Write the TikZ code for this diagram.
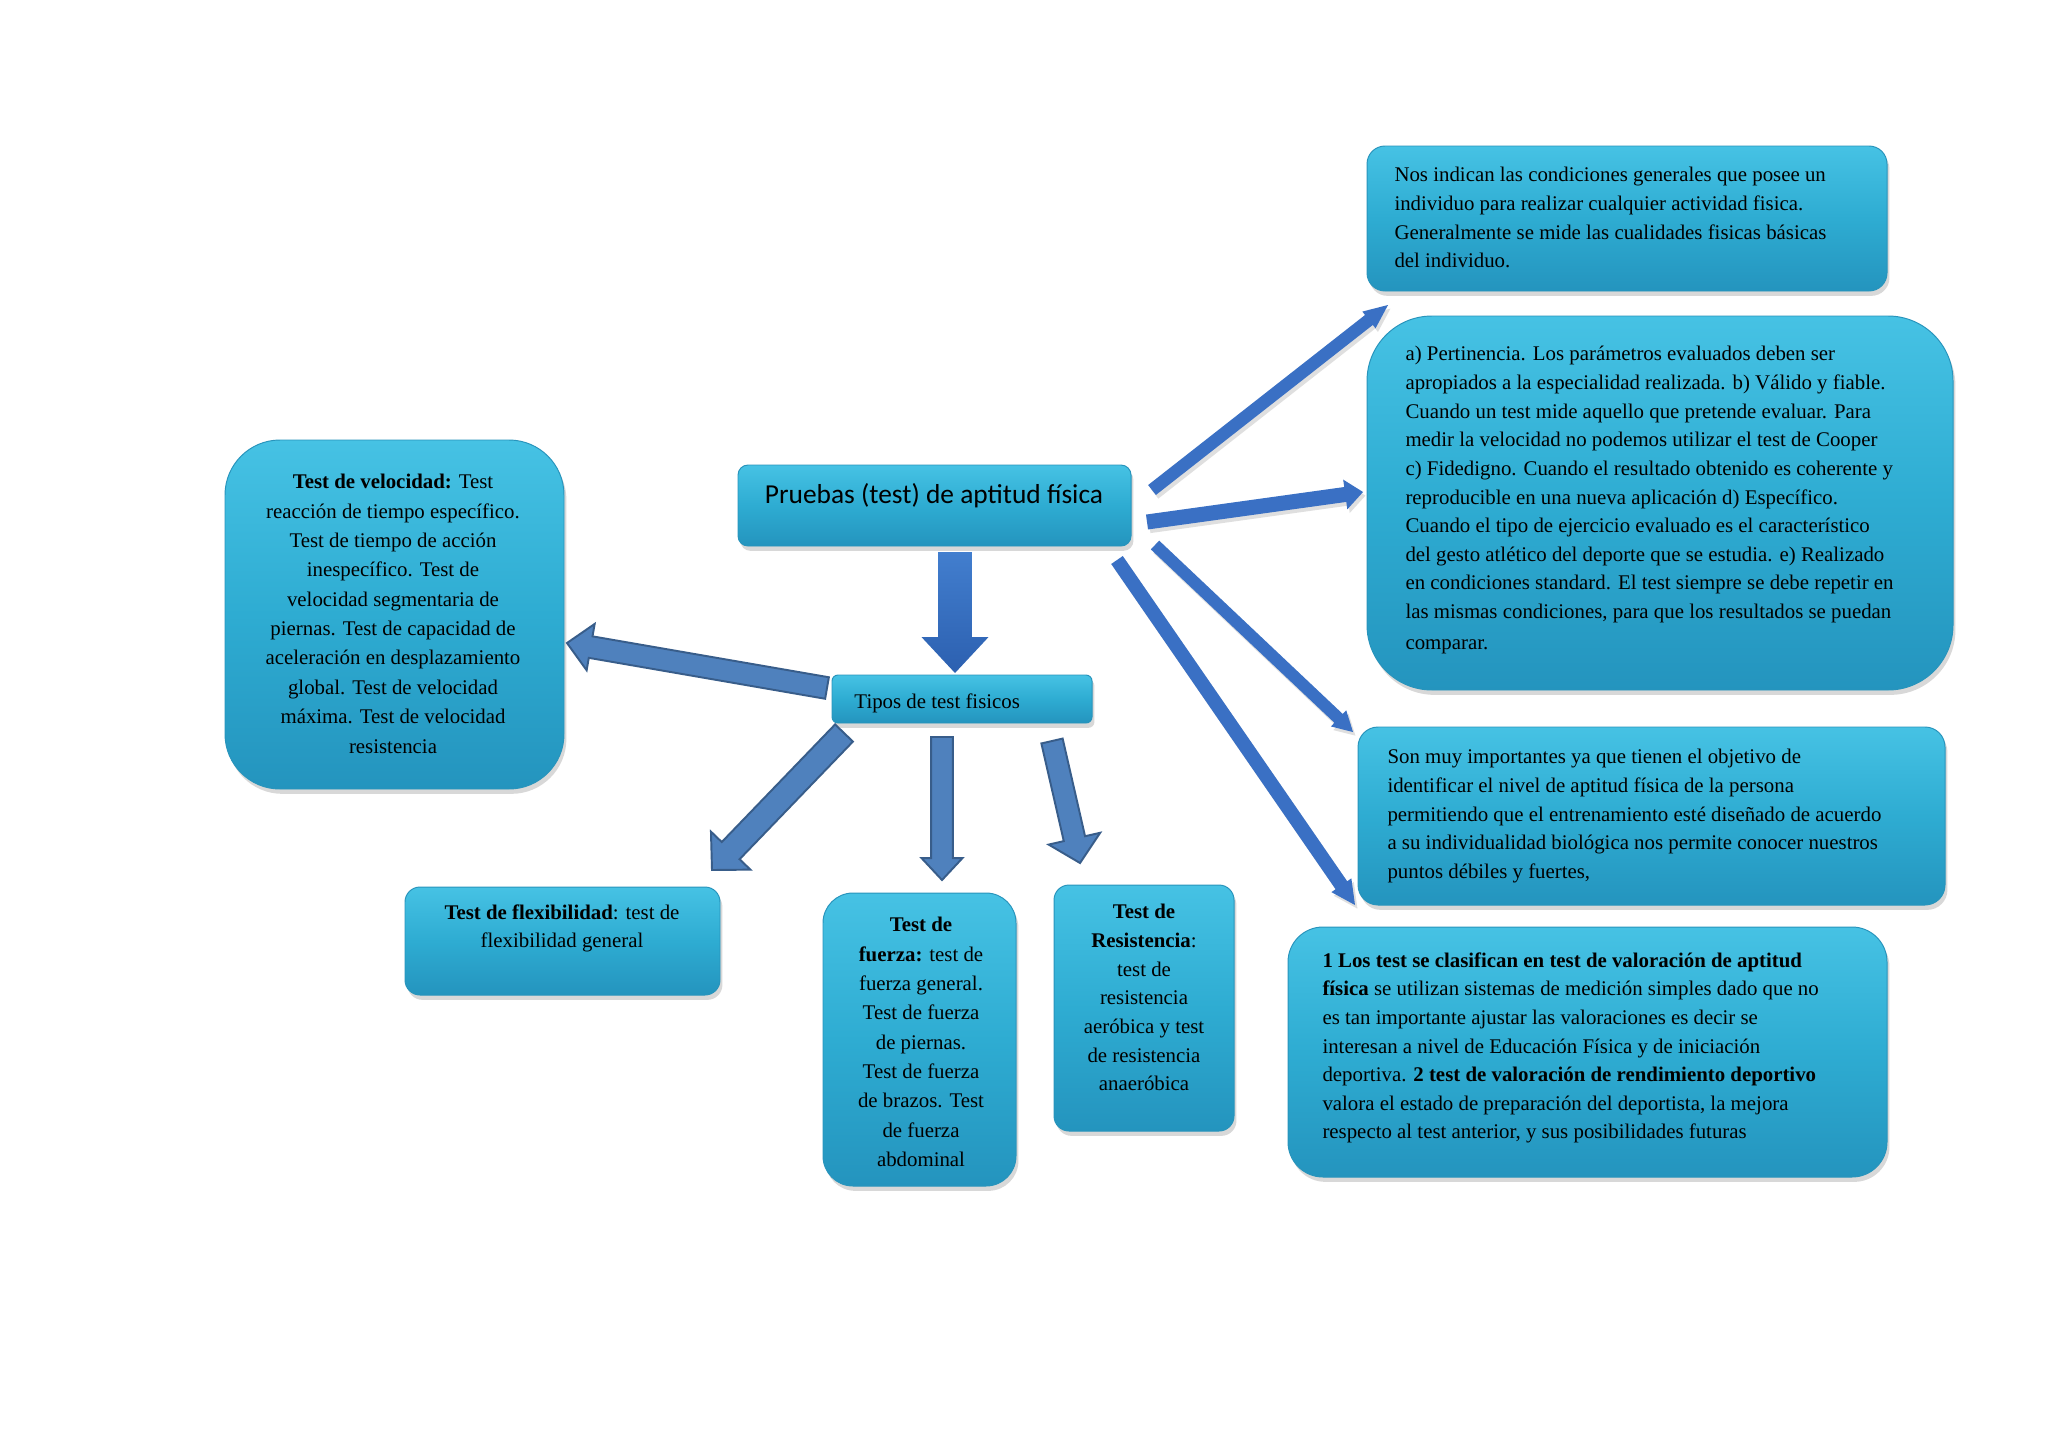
\documentclass[tikz,border=0pt]{standalone}
\usepackage{fontspec}
\setmainfont{Liberation Serif}
\newfontfamily\calib{Carlito}
\usetikzlibrary{calc,shadows}
\definecolor{boxtop}{RGB}{70,194,228}
\definecolor{boxmid}{RGB}{46,172,210}
\definecolor{boxbot}{RGB}{36,148,190}
\definecolor{boxline}{RGB}{40,148,188}
\definecolor{arrblue}{RGB}{58,112,196}
\definecolor{arrfill}{RGB}{79,129,189}
\definecolor{arrline}{RGB}{56,93,138}
\definecolor{bigtop}{RGB}{66,126,206}
\definecolor{bigbot}{RGB}{44,96,176}
\newcommand\pxu{0.014502cm}
\newcommand\fatarrow[6]{%
  \coordinate (fah) at ($(#3)!#6!(#2)$);
  \path[#1] ($(#2)!#4!90:(#3)$) -- ($(fah)!#4!90:(#3)$) -- ($(fah)!#5!90:(#3)$) -- (#3)
    -- ($(fah)!#5!-90:(#3)$) -- ($(fah)!#4!-90:(#3)$) -- ($(#2)!#4!-90:(#3)$) -- cycle;
}
\tikzset{
  cbox/.style={rectangle, draw=boxline, line width=0.4pt, top color=boxtop, bottom color=boxbot, middle color=boxmid,
    drop shadow={opacity=0.3, shadow xshift=1pt, shadow yshift=-2pt}, inner sep=0pt},
  btext/.style={inner sep=0pt, font=\fontsize{8.6}{11.8}\selectfont},
  ltext/.style={inner sep=0pt, font=\fontsize{8.6}{12.1}\selectfont},
  thinarrow/.style={fill=arrblue, drop shadow={opacity=0.25, shadow xshift=1pt, shadow yshift=-1.5pt}},
  outarrow/.style={fill=arrfill, draw=arrline, line width=0.8pt, line join=miter},
  bigarrow/.style={top color=bigtop, bottom color=bigbot}
}
\begin{document}
\begin{tikzpicture}[x=0.014502cm, y=-0.014502cm]
\useasboundingbox[fill=white] (0,0) rectangle (2048,1448);

% boxes
\node[cbox, minimum width=520*\pxu, minimum height=145*\pxu, rounded corners=18*\pxu] (nos) at (1627,218.5) {};
\node[cbox, minimum width=586*\pxu, minimum height=374*\pxu, rounded corners=65*\pxu] (pert) at (1660,503) {};
\node[cbox, minimum width=587*\pxu, minimum height=178*\pxu, rounded corners=20*\pxu] (son) at (1651.5,816) {};
\node[cbox, minimum width=599*\pxu, minimum height=250*\pxu, rounded corners=35*\pxu] (clas) at (1587.5,1052) {};
\node[cbox, minimum width=339*\pxu, minimum height=349*\pxu, rounded corners=55*\pxu] (vel) at (394.5,614.5) {};
\node[cbox, minimum width=393*\pxu, minimum height=81*\pxu, rounded corners=10*\pxu] (pru) at (934.5,505.5) {};
\node[cbox, minimum width=260*\pxu, minimum height=48*\pxu, rounded corners=6*\pxu] (tip) at (962,699) {};
\node[cbox, minimum width=315*\pxu, minimum height=108*\pxu, rounded corners=15*\pxu] (flex) at (562.5,941) {};
\node[cbox, minimum width=193*\pxu, minimum height=293*\pxu, rounded corners=30*\pxu] (fue) at (919.5,1039.5) {};
\node[cbox, minimum width=180*\pxu, minimum height=246*\pxu, rounded corners=15*\pxu] (res) at (1144,1008) {};

% texts
\node[btext, anchor=north west, align=left] (nosT) at (1394,167) {Nos indican  las condiciones generales  que posee un\\
individuo para realizar cualquier actividad fisica.\\
Generalmente se mide las cualidades fisicas básicas\\
del individuo.};

\node[btext, anchor=north west, align=left] (pertT) at (1405,346) {a) Pertinencia. Los parámetros evaluados deben ser\\
apropiados a la especialidad realizada. b) Válido  y fiable.\\
Cuando un test mide aquello que pretende evaluar. Para\\
medir la velocidad no podemos utilizar el test de Cooper\\
c) Fidedigno.  Cuando el resultado obtenido es coherente y\\
reproducible en una nueva aplicación d) Específico.\\
Cuando el tipo de ejercicio evaluado es el característico\\
del gesto atlético del deporte que se estudia. e) Realizado\\
en condiciones standard. El test siempre se debe repetir en\\
las mismas condiciones, para que los resultados se puedan\\[1pt]
comparar.};

\node[btext, anchor=north west, align=left] (sonT) at (1387,749) {Son muy importantes ya que  tienen el objetivo de\\
identificar el nivel de aptitud física de la persona\\
permitiendo que el entrenamiento esté diseñado de acuerdo\\
a su individualidad biológica  nos permite conocer nuestros\\
puntos débiles y fuertes,};

\node[btext, anchor=north west, align=left] (clasT) at (1322,952) {\textbf{1 Los test se clasifican en test de valoración de aptitud}\\
\textbf{física} se utilizan sistemas de medición simples dado que no\\
es tan importante ajustar las valoraciones es decir se\\
interesan a nivel de Educación Física y de iniciación\\
deportiva. \textbf{2 test de valoración de rendimiento deportivo}\\
valora el estado de preparación del deportista, la mejora\\
respecto al test anterior, y sus posibilidades futuras};

\node[ltext, anchor=north, align=center] (velT) at (393,474) {\textbf{Test de velocidad:} Test\\
reacción  de tiempo específico.\\
Test de tiempo de acción\\
inespecífico. Test de\\
velocidad  segmentaria  de\\
piernas. Test de capacidad de\\
aceleración  en desplazamiento\\
global.  Test de velocidad\\
máxima.  Test de velocidad\\
resistencia};

\node[btext, anchor=north, align=center] (flexT) at (562,904) {\textbf{Test de flexibilidad}: test de\\
flexibilidad  general};

\node[ltext, anchor=north, align=center] (fueT) at (921,917) {\textbf{Test de}\\
\textbf{fuerza:} test de\\
fuerza general.\\
Test de fuerza\\
de piernas.\\
Test de fuerza\\
de brazos. Test\\
de fuerza\\
abdominal};

\node[btext, anchor=north, align=center] (resT) at (1144,904) {\textbf{Test de}\\
\textbf{Resistencia}:\\
test de\\
resistencia\\
aeróbica  y test\\
de resistencia\\
anaeróbica};

\node[inner sep=0pt, anchor=north, font=\calib\fontsize{11.3}{13}\selectfont] (pruT) at (934,483) {Pruebas (test) de aptitud física};
\node[btext, anchor=base west] (tipT) at (854,708) {Tipos de test fisicos};

% arrow end points
\coordinate (a0s) at (955,552);  \coordinate (a0e) at (955,673);
\coordinate (a1s) at (1152,490); \coordinate (a1e) at (1388,305);
\coordinate (a2s) at (1147,522); \coordinate (a2e) at (1363,492);
\coordinate (a3s) at (1155,545); \coordinate (a3e) at (1353,732);
\coordinate (a4s) at (1117,560); \coordinate (a4e) at (1355,905);
\coordinate (b1s) at (827,688);  \coordinate (b1e) at (567,643);
\coordinate (b2s) at (844,733);  \coordinate (b2e) at (712,870);
\coordinate (b3s) at (942,737);  \coordinate (b3e) at (942,880);
\coordinate (b4s) at (1052,741); \coordinate (b4e) at (1080,863);

% arrows
\fatarrow{bigarrow}{a0s}{a0e}{7pt}{13.8pt}{14.8pt}
\fatarrow{thinarrow}{a1s}{a1e}{2.6pt}{4.4pt}{10pt}
\fatarrow{thinarrow}{a2s}{a2e}{3.1pt}{6.2pt}{7.4pt}
\fatarrow{thinarrow}{a3s}{a3e}{2.5pt}{4.6pt}{8.2pt}
\fatarrow{thinarrow}{a4s}{a4e}{2.9pt}{5pt}{9.9pt}
\fatarrow{outarrow}{b1s}{b1e}{4.5pt}{9.7pt}{9.9pt}
\fatarrow{outarrow}{b2s}{b2e}{5.1pt}{11.3pt}{11.1pt}
\fatarrow{outarrow}{b3s}{b3e}{4.5pt}{8.4pt}{9pt}
\fatarrow{outarrow}{b4s}{b4e}{4.5pt}{10.9pt}{10.3pt}
\end{tikzpicture}
\end{document}
